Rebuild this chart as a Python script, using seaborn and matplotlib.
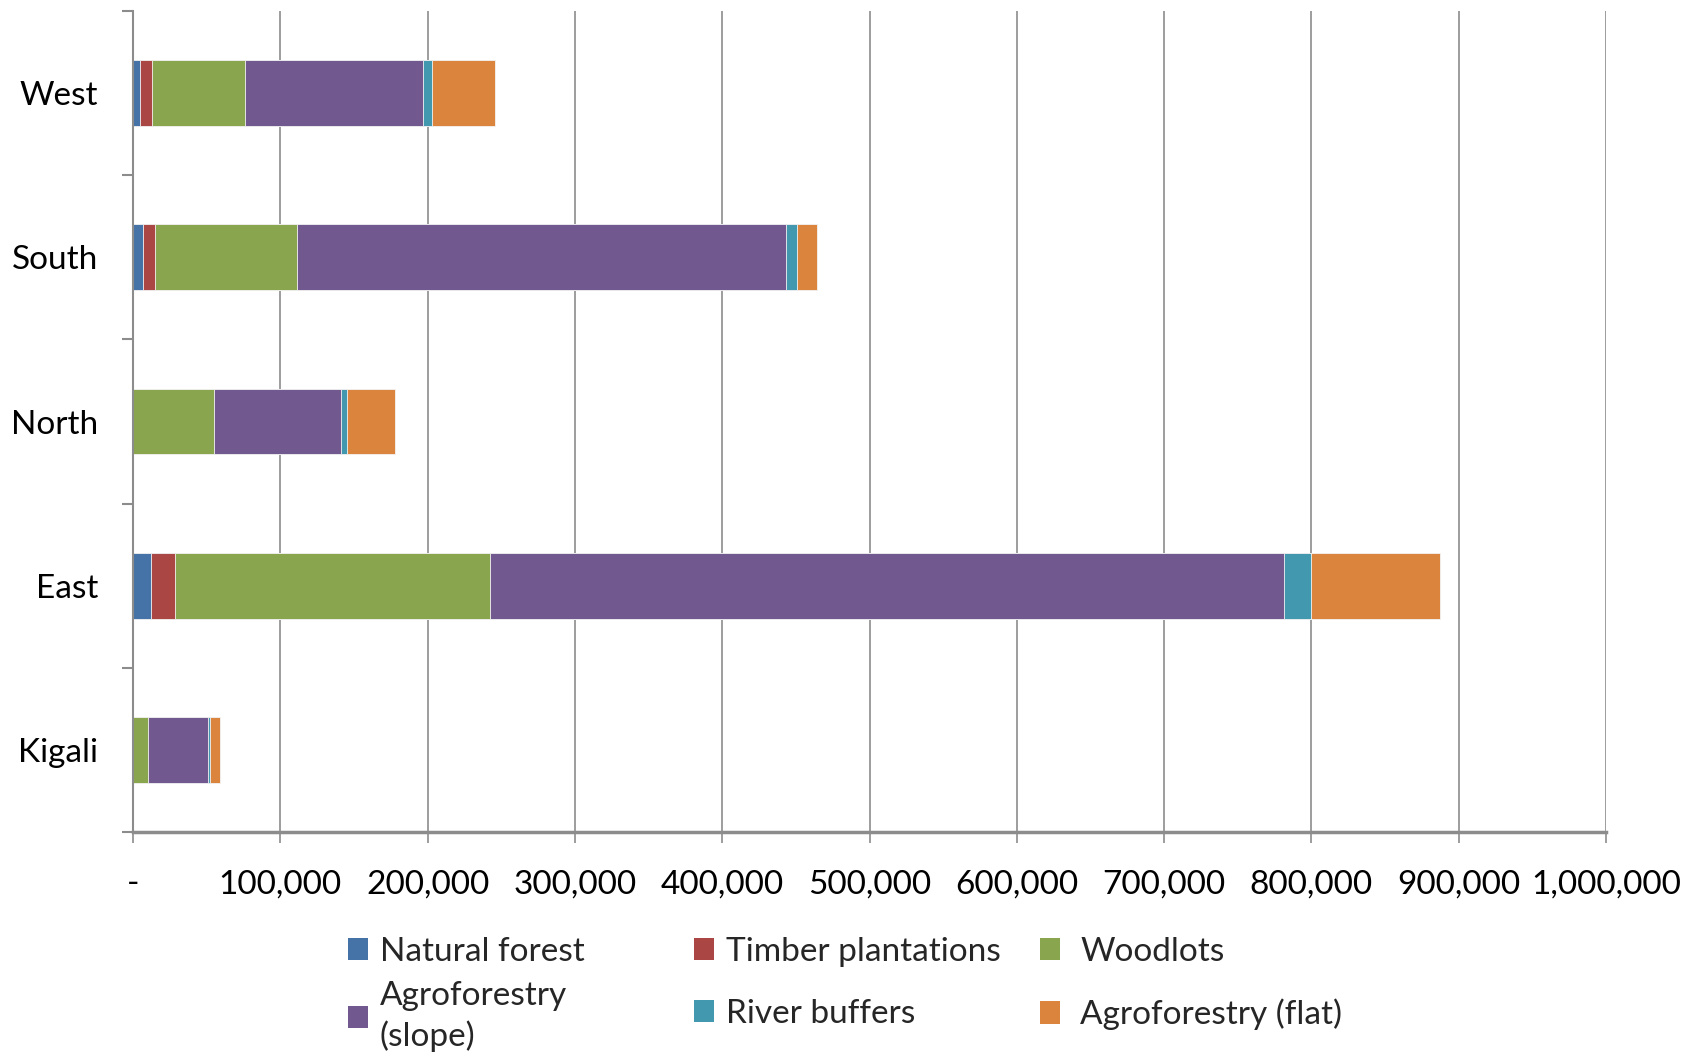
import numpy as np
import pandas as pd
import seaborn as sns
import matplotlib.pyplot as plt
from matplotlib.ticker import FixedLocator, FuncFormatter
from matplotlib.patches import Patch

regions = ["West", "South", "North", "East", "Kigali"]
series_names = ["Natural forest", "Timber plantations", "Woodlots",
                "Agroforestry\n(slope)", "River buffers", "Agroforestry (flat)"]
natural_forest = [4800, 7000, 0, 12200, 0]
timber_plantations = [8300, 7900, 0, 16500, 0]
woodlots = [63000, 96200, 54800, 213700, 10000]
agroforestry_slope = [121000, 332000, 86400, 539200, 40900]
river_buffers = [6100, 8000, 4100, 17900, 1200]
agroforestry_flat = [42400, 13000, 32600, 88000, 7000]
colors = ["#4572A7", "#AA4643", "#89A54E", "#71588F", "#4198AF", "#DB843D"]
x_ticks = [0, 100000, 200000, 300000, 400000, 500000, 600000, 700000, 800000, 900000, 1000000]

values = np.array([natural_forest, timber_plantations, woodlots,
                   agroforestry_slope, river_buffers, agroforestry_flat], dtype=float)
cum = np.cumsum(values, axis=0)

sns.set_theme(style="white")
plt.rcParams['font.family'] = ['Lato', 'DejaVu Sans']

W, H = 1686, 1058
fig = plt.figure(figsize=(W / 100, H / 100), dpi=100)
ax = fig.add_axes([133 / W, 1 - 832 / H, (1606 - 133) / W, (832 - 11) / H])

grid_c = "#8c8c8c"
for i in reversed(range(len(series_names))):
    d = pd.DataFrame({"Region": regions, "Value": cum[i]})
    sns.barplot(data=d, x="Value", y="Region", order=regions, orient="h",
                color=colors[i], saturation=1, width=0.4, ax=ax,
                edgecolor="#f4f4f4", linewidth=0.6, zorder=2)

ax.set_xlim(0, 1000000)
ax.set_ylim(4.5, -0.5)
ax.set_xlabel("")
ax.set_ylabel("")

ax.xaxis.set_major_locator(FixedLocator(x_ticks))
ax.xaxis.set_major_formatter(FuncFormatter(lambda v, p: "-" if v == 0 else f"{int(v):,}"))
ax.grid(axis="x", color=grid_c, linewidth=1.2, zorder=0)
ax.set_axisbelow(True)

ax.yaxis.set_minor_locator(FixedLocator([-0.5, 0.5, 1.5, 2.5, 3.5, 4.5]))
ax.tick_params(axis="y", which="major", length=0, pad=25, labelsize=24, labelcolor="black")
ax.tick_params(axis="y", which="minor", left=True, length=8, width=1.5, color=grid_c, direction="out")
ax.tick_params(axis="x", which="major", bottom=True, length=8, width=1.2, color=grid_c,
               direction="out", pad=19, labelsize=24, labelcolor="black")

for s in ["top", "right"]:
    ax.spines[s].set_visible(False)
ax.spines["left"].set_color(grid_c)
ax.spines["left"].set_linewidth(1.5)
ax.spines["bottom"].set_color(grid_c)
ax.spines["bottom"].set_linewidth(2.5)

handles = [Patch(facecolor=c, edgecolor="none") for c in colors]
col_x = [348, 694, 1040]
spacings = [0.43, 0.95, 0.95]
for k in range(3):
    hs = [handles[k], handles[k + 3]]
    ls = [series_names[k], series_names[k + 3]]
    leg = fig.legend(hs, ls, loc="upper left", bbox_to_anchor=(col_x[k] / W, 1 - 937 / H),
                     frameon=False, fontsize=24, handlelength=0.6, handleheight=0.65,
                     handletextpad=0.35 if k < 2 else 0.6, labelspacing=spacings[k],
                     borderpad=0, borderaxespad=0)
    for t in leg.get_texts():
        t.set_linespacing(1.35)

fig.savefig("out.png", dpi=100)
